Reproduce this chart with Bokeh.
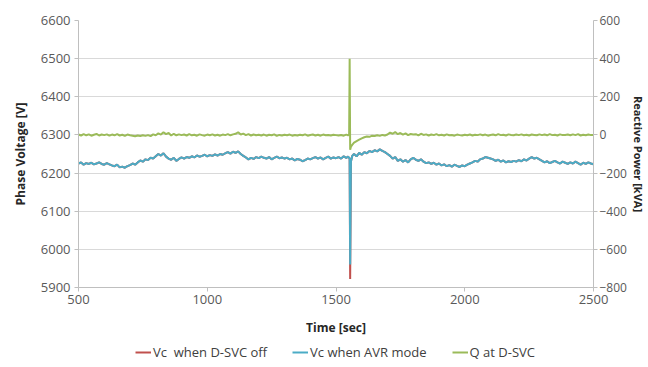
from bokeh.plotting import figure
from bokeh.layouts import column
from bokeh.models import Range1d, LinearAxis, Legend, LegendItem, FixedTicker
from bokeh.embed import file_html
from bokeh.resources import INLINE

# Time axis (sec)
TIME = list(range(500, 1550, 10)) + [1547, 1551, 1553, 1555, 1558, 1563] + list(range(1570, 2510, 10))

# Vc when AVR mode [V]
VC_AVR = [
    6225, 6228, 6222, 6226, 6224, 6227, 6223, 6225, 6228, 6224, 6222,
    6226, 6223, 6220, 6218, 6222, 6215, 6217, 6214, 6218, 6221,
    6225, 6222, 6228, 6233, 6230, 6236, 6234, 6240, 6238, 6244,
    6250, 6246, 6252, 6243, 6238, 6235, 6240, 6232, 6237, 6241,
    6238, 6242, 6240, 6244, 6241, 6246, 6243, 6245, 6248, 6244,
    6247, 6245, 6249, 6246, 6250, 6248, 6252, 6255, 6251, 6256,
    6253, 6257, 6250, 6245, 6241, 6236, 6240, 6237, 6242, 6239,
    6243, 6240, 6238, 6242, 6236, 6240, 6243, 6239, 6241, 6238,
    6240, 6236, 6238, 6233, 6237, 6235, 6231, 6234, 6238, 6236,
    6239, 6242, 6238, 6241, 6236, 6240, 6243, 6238, 6241, 6239,
    6242, 6238, 6244, 6240,
    6243, 6240, 6238, 5960, 6230, 6245,
    6250, 6244, 6253, 6248,
    6255, 6252, 6258, 6255, 6260, 6257, 6262, 6258, 6255, 6250,
    6245, 6238, 6242, 6232, 6236, 6230, 6234, 6228, 6236, 6240,
    6235, 6232, 6236, 6230, 6226, 6228, 6224, 6227, 6222, 6225,
    6220, 6223, 6218, 6221, 6217, 6222, 6219, 6216, 6220, 6218,
    6222, 6225, 6228, 6232, 6230, 6236, 6238, 6242, 6240, 6238,
    6236, 6232, 6235, 6230, 6233, 6228, 6231, 6229, 6232, 6230,
    6234, 6231, 6236, 6233, 6238, 6242, 6238, 6240, 6236, 6232,
    6228, 6231, 6226, 6229, 6232, 6228, 6225, 6230, 6227, 6224,
    6228, 6225, 6230, 6226, 6222, 6227, 6224, 6228, 6225, 6223,
]

# Vc when D-SVC off [V] (same trace, deeper dip at the event)
VC_OFF_DIP = 5922
VC_OFF = VC_AVR[:108] + [VC_OFF_DIP] + VC_AVR[109:]

# Q at D-SVC [kVA]
Q_SVC = [
    2, -3, 4, -2, 3, -4, 1, 5, -3, 2, -1,
    3, -4, 2, -2, 4, -3, 1, -5, 2, -2,
    -4, -7, -3, -6, -2, -5, -1, -6, 3, -2,
    8, 2, 14, 4, 10, -3, 6, -2, 3, -1,
    2, -3, 4, -2, 1, -4, 3, -1, -4, 2,
    -2, 3, -3, 1, -4, 2, -1, 4, -2, 3,
    6, 14, 2, 7, -1, 4, -3, 2, -2, 1,
    -3, 2, -4, 1, -2, 3, -5, 0, -3, 1,
    -2, 2, -4, 0, -3, 1, -2, 3, -4, 0,
    2, -3, 1, -4, 2, -2, 0, -3, 1, -1,
    -3, 0, -4, 2,
    -2, 1, 400, -78, -62, -52,
    -40, -32, -25, -18,
    -12, -8, -10, -4, -6, -2, -5, 0, -3, 2,
    12, 6, 15, 4, 10, 2, 8, -1, 5, 2,
    4, -2, 6, 0, 3, -3, 2, -1, 4, -2,
    1, -3, 3, -2, 0, -4, 2, -1, -3, 1,
    -2, 2, -3, 1, -1, 3, -2, 2, -4, 0,
    2, -2, 4, -1, 1, -3, 3, 0, -2, 2,
    -1, 3, -2, 1, -3, 2, 0, -2, 3, -1,
    2, -2, 4, -1, 1, -3, 3, -1, 0, 2,
    -2, 3, -1, 4, -3, 1, -2, 2, -1, 0,
]

X_TICKS = [500, 1000, 1500, 2000, 2500]
V_TICKS = [5900, 6000, 6100, 6200, 6300, 6400, 6500, 6600]
Q_TICKS = [-800, -600, -400, -200, 0, 200, 400, 600]

SERIES_NAMES = ["Vc  when D-SVC off", "Vc when AVR mode", "Q at D-SVC"]
COLORS = ["#C0504D", "#4BACC6", "#9BBB59"]

FONT = "Open Sans"
TICK_COLOR = "#595959"
AXIS_COLOR = "#BFBFBF"

W = 648
H_MAIN = 342
H_LEG = 25

p = figure(width=W, height=H_MAIN, output_backend="svg", toolbar_location=None,
           x_range=Range1d(500, 2500), y_range=Range1d(5900, 6600),
           min_border_left=78, min_border_right=48, min_border_top=20, min_border_bottom=55)
p.extra_y_ranges = {"q": Range1d(-800, 600)}

r_off = p.line(TIME, VC_OFF, line_color=COLORS[0], line_width=2)
r_avr = p.line(TIME, VC_AVR, line_color=COLORS[1], line_width=2)
r_q = p.line(TIME, Q_SVC, line_color=COLORS[2], line_width=2, y_range_name="q")

right_axis = LinearAxis(y_range_name="q", axis_label="Reactive Power [kVA]")
p.add_layout(right_axis, "right")

p.xaxis.ticker = FixedTicker(ticks=X_TICKS)
p.yaxis[0].ticker = FixedTicker(ticks=V_TICKS)
right_axis.ticker = FixedTicker(ticks=Q_TICKS)

p.xaxis.axis_label = "Time [sec]"
p.yaxis[0].axis_label = "Phase Voltage [V]"

for ax in [p.xaxis[0], p.yaxis[0], right_axis]:
    ax.axis_line_color = AXIS_COLOR
    ax.major_tick_line_color = AXIS_COLOR
    ax.minor_tick_line_color = None
    ax.major_tick_in = 0
    ax.major_tick_out = 4
    ax.major_label_text_font = FONT
    ax.major_label_text_font_size = "13px"
    ax.major_label_text_color = TICK_COLOR
    ax.axis_label_text_font = FONT
    ax.axis_label_text_font_size = "12px"
    ax.axis_label_text_font_style = "bold"
    ax.axis_label_text_color = "#262626"

right_axis.major_label_text_font_size = "12px"
right_axis.axis_label_text_font_size = "11px"

p.xaxis.major_label_standoff = 3
p.xaxis.axis_label_standoff = 12
p.yaxis[0].major_label_standoff = 4
p.yaxis[0].axis_label_standoff = 9
right_axis.major_label_standoff = 2
right_axis.axis_label_standoff = 1

p.outline_line_color = None
p.xgrid.grid_line_color = None
p.ygrid.grid_line_color = "#D9D9D9"
p.ygrid.grid_line_width = 1

# Separate strip underneath for the legend (series drawn far outside its ranges)
pl = figure(width=W, height=H_LEG, output_backend="svg", toolbar_location=None,
            x_range=Range1d(-20, -10), y_range=Range1d(-20, -10),
            x_axis_location=None, y_axis_location=None,
            min_border_left=0, min_border_right=0, min_border_top=0, min_border_bottom=0)
pl.grid.visible = False
pl.outline_line_color = None
l_off = pl.line(TIME, VC_OFF, line_color=COLORS[0], line_width=2)
l_avr = pl.line(TIME, VC_AVR, line_color=COLORS[1], line_width=2)
l_q = pl.line(TIME, Q_SVC, line_color=COLORS[2], line_width=2)

legend = Legend(items=[LegendItem(label=SERIES_NAMES[0], renderers=[l_off]),
                       LegendItem(label=SERIES_NAMES[1], renderers=[l_avr]),
                       LegendItem(label=SERIES_NAMES[2], renderers=[l_q])],
                orientation="horizontal", location=(57, 5))
legend.label_text_font = FONT
legend.label_text_font_size = "13px"
legend.label_text_color = "#404040"
legend.glyph_width = 16
legend.glyph_height = 20
legend.label_standoff = 2
legend.spacing = 25
legend.padding = 0
legend.margin = 0
legend.border_line_color = None
legend.background_fill_alpha = 0
pl.add_layout(legend, "center")

layout = column(p, pl, spacing=0)
open("out.html", "w").write(file_html(layout, INLINE))
